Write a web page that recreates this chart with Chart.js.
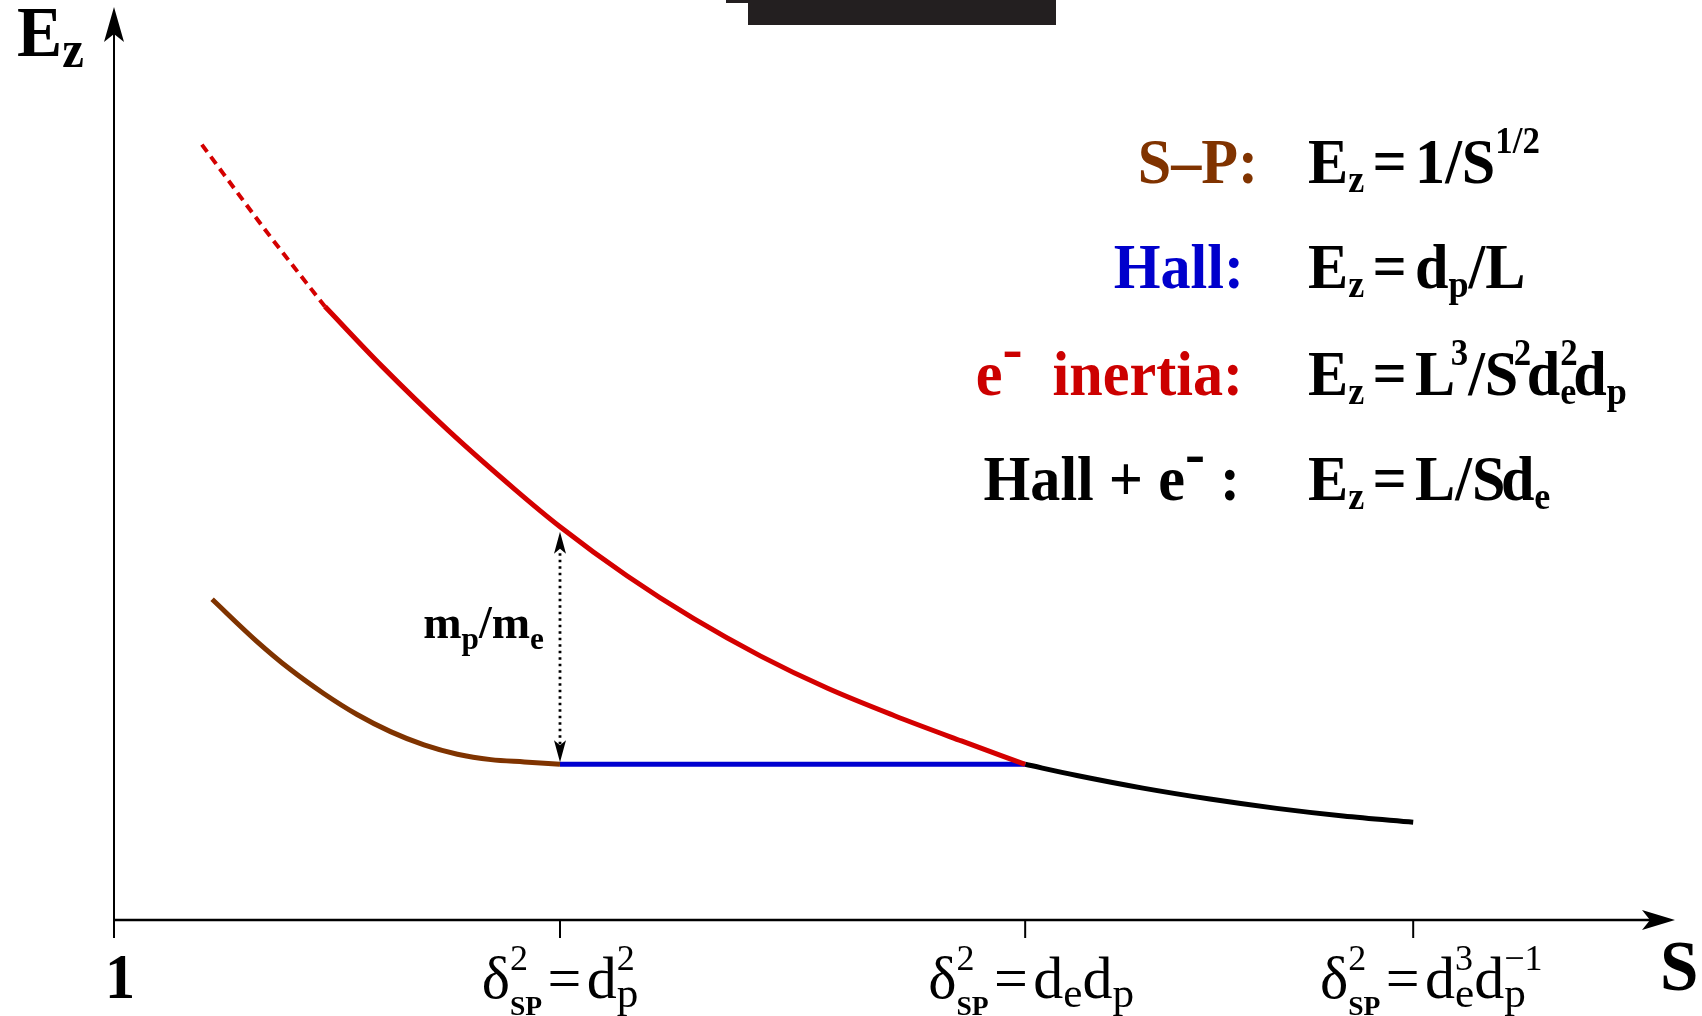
<!DOCTYPE html>
<html>
<head>
<meta charset="utf-8">
<title>Reconnection rate regimes</title>
<script src="https://cdn.jsdelivr.net/npm/chart.js@4.4.1/dist/chart.umd.min.js"></script>
<style>
  html, body { margin: 0; padding: 0; background: #fff; overflow: hidden; }
  canvas { display: block; }
</style>
</head>
<body>
<canvas id="regimeChart" width="1702" height="1016"></canvas>
<script>
// Schematic values: x ~ position along S, y ~ E_z (Hall level = 1)
const spX = [0.22, 0.32, 0.395, 0.47, 0.545, 0.62, 0.695, 0.77, 0.845, 0.92, 1.0];
const spY = [2.06, 1.79, 1.61, 1.455, 1.32, 1.21, 1.125, 1.065, 1.03, 1.015, 1.0];

const inertiaDashX = [0.197, 0.345, 0.473];
const inertiaDashY = [4.98, 4.41, 3.94];
const inertiaX = [0.473, 0.6, 0.75, 0.9, 1.0, 1.15, 1.3, 1.45, 1.6, 1.75, 1.9, 2.043];
const inertiaY = [3.94, 3.559, 3.143, 2.763, 2.526, 2.211, 1.935, 1.695, 1.488, 1.312, 1.15, 1.0];

const hallX = [1.0, 2.043];
const hallY = [1.0, 1.0];

const hallInertiaX = [2.043, 2.159, 2.307, 2.457, 2.607, 2.756, 2.913];
const hallInertiaY = [1.0, 0.928, 0.847, 0.777, 0.717, 0.668, 0.628];

// m_p/m_e gap arrow: x position, then bottom / top of the gap
const ratioArrowX = 1.0;
const ratioArrowY = [1.0, 2.526];

const tickValues = [0, 1, 2.043, 2.913];
const tickLabels = ['1', 'δ^{2}_[SP]~=~d^{2}_{p}', 'δ^{2}_[SP]~=~d_{e}d_{p}', 'δ^{2}_[SP]~=~d_{e}^{3}d_{p}^{−1}'];

const regimeNames = ['S–P:', 'Hall:', 'e^{-}  inertia:', 'Hall + e^{-} :'];
const regimeLaws = ['E_{z}~=~1/S^{1/2}', 'E_{z}~=~d_{p}/L', 'E_{z}~=~L!^{3}/S!^{2}!d_{e}^{2}!d_{p}', 'E_{z}~=~L/S!d_{e}'];

const xMax = 3.5;
const yMax = 5.864;

const toPoints = (xs, ys) => xs.map((v, i) => ({ x: v, y: ys[i] }));

// tiny markup: _{sub} ^{sup} _[small bold sub] ~ thin gap ! negative gap
function parseRich(str) {
    const runs = [];
    let buf = '';
    const flush = () => { if (buf) { runs.push({ t: buf, kind: 'base' }); buf = ''; } };
    for (let i = 0; i < str.length; i++) {
        const c = str[i];
        if ((c === '_' || c === '^') && (str[i + 1] === '{' || str[i + 1] === '[')) {
            flush();
            const close = str[i + 1] === '{' ? '}' : ']';
            const end = str.indexOf(close, i + 2);
            let kind = c === '_' ? 'sub' : 'sup';
            if (close === ']') kind = 'small';
            runs.push({ t: str.slice(i + 2, end), kind: kind });
            i = end;
        } else if (c === '~' || c === '!') {
            flush();
            runs.push({ t: '', kind: 'gap', neg: c === '!' });
        } else {
            buf += c;
        }
    }
    flush();
    return runs;
}

function runFont(r, s) {
    let size = s.size, dy = 0, weight = s.weight;
    if (r.kind === 'sub') {
        size = s.size * s.subSize; dy = s.size * s.subDrop;
    } else if (r.kind === 'sup') {
        if (r.t === '-') { size = s.size; dy = -s.size * 0.4; }
        else { size = s.size * s.supSize; dy = -s.size * s.supRaise; }
    } else if (r.kind === 'small') {
        size = s.size * s.smallSize; dy = s.size * s.smallDrop; weight = 'bold';
    }
    return { font: weight + ' ' + size.toFixed(1) + 'px "Liberation Serif", "Times New Roman", serif', dy: dy };
}

function drawRich(ctx, str, x, y, s, align) {
    const items = [];
    let cx = 0, stackX = null;
    parseRich(str).forEach(r => {
        if (r.kind === 'gap') {
            cx += r.neg ? -s.size * 0.07 : s.size * (s.gap || 0.09);
            if (!r.neg) stackX = null;
            return;
        }
        const f = runFont(r, s);
        ctx.font = f.font;
        const w = ctx.measureText(r.t).width * s.sx;
        const script = r.kind !== 'base';
        let rx = cx;
        if (script && stackX !== null) {
            rx = stackX; cx = Math.max(cx, rx + w); stackX = null;
        } else {
            cx = rx + w; stackX = script ? rx : null;
        }
        items.push({ t: r.t, font: f.font, x: rx, dy: f.dy });
    });
    const x0 = align === 'right' ? x - cx : align === 'center' ? x - cx / 2 : x;
    items.forEach(it => {
        ctx.save();
        ctx.font = it.font;
        ctx.translate(x0 + it.x, y + it.dy);
        ctx.scale(s.sx, 1);
        ctx.fillText(it.t, 0, 0);
        ctx.restore();
    });
}

function arrowHead(ctx, tx, ty, dx, dy, len, half, notch) {
    const bx = tx - dx * len, by = ty - dy * len;
    ctx.beginPath();
    ctx.moveTo(tx, ty);
    ctx.lineTo(bx - dy * half, by + dx * half);
    ctx.lineTo(tx - dx * (len - notch), ty - dy * (len - notch));
    ctx.lineTo(bx + dy * half, by - dx * half);
    ctx.closePath();
}

const legendStyle = { size: 64, weight: 'bold', sx: 0.94, gap: 0.13, subSize: 0.6, subDrop: 0.14, supSize: 0.58, supRaise: 0.47 };
const tickStyle = { size: 60, weight: 'normal', sx: 1, gap: 0.09, subSize: 0.72, subDrop: 0.15, supSize: 0.6, supRaise: 0.47, smallSize: 0.46, smallDrop: 0.28 };
const oneStyle = { size: 64, weight: 'bold', sx: 0.94 };
const yTitleStyle = { size: 72, weight: 'bold', sx: 0.94, subSize: 0.72, subDrop: 0.15 };
const xTitleStyle = { size: 72, weight: 'bold', sx: 0.96 };
const ratioStyle = { size: 46, weight: 'bold', sx: 1, subSize: 0.68, subDrop: 0.23 };

const nameColors = ['#803300', '#0000cc', '#cc0000', '#000000'];

const schematicPlugin = {
    id: 'schematic',
    beforeDatasetsDraw(chart) {
        const { ctx, chartArea: a, scales: { x, y } } = chart;
        const ox = x.getPixelForValue(0), oy = y.getPixelForValue(0);
        ctx.save();
        ctx.strokeStyle = '#000';
        ctx.fillStyle = '#000';

        // y axis with arrow
        ctx.lineWidth = 2;
        ctx.beginPath(); ctx.moveTo(ox, oy); ctx.lineTo(ox, a.top + 25); ctx.stroke();
        arrowHead(ctx, ox, a.top, 0, -1, 35, 10, 8); ctx.fill();

        // x axis with arrow
        ctx.lineWidth = 2.6;
        ctx.beginPath(); ctx.moveTo(ox, oy); ctx.lineTo(a.right - 25, oy); ctx.stroke();
        arrowHead(ctx, a.right, oy, 1, 0, 33, 10, 8); ctx.fill();

        // ticks
        ctx.lineWidth = 2;
        tickValues.forEach(v => {
            const px = x.getPixelForValue(v);
            ctx.beginPath(); ctx.moveTo(px, oy); ctx.lineTo(px, oy + 18); ctx.stroke();
        });
        ctx.restore();
    },
    afterDraw(chart) {
        const { ctx, chartArea: a, scales: { x, y } } = chart;
        const oy = y.getPixelForValue(0);
        ctx.save();
        ctx.textAlign = 'left';
        ctx.textBaseline = 'alphabetic';

        // cropped bar at the top edge
        ctx.fillStyle = '#231f20';
        ctx.fillRect(748, 0, 308, 25);
        ctx.fillRect(726, 0, 22, 3);

        // tick labels (the labels sit slightly right of their ticks in the figure)
        const labelShift = [6, 0, 6, 18];
        ctx.fillStyle = '#000';
        tickLabels.forEach((t, i) => {
            const px = x.getPixelForValue(tickValues[i]) + labelShift[i];
            drawRich(ctx, t, px, oy + 78, i === 0 ? oneStyle : tickStyle, 'center');
        });

        // axis titles
        drawRich(ctx, 'E_{z}', 17, 56, yTitleStyle, 'left');
        drawRich(ctx, 'S', a.right - 15, oy + 70, xTitleStyle, 'left');

        // regime legend
        const rowBase = [183, 288, 395, 500];
        const rowRight = [1258, 1244, 1243, 1240];
        regimeNames.forEach((t, i) => {
            ctx.fillStyle = nameColors[i];
            drawRich(ctx, t, rowRight[i], rowBase[i], legendStyle, 'right');
            ctx.fillStyle = '#000';
            drawRich(ctx, regimeLaws[i], 1308, rowBase[i], legendStyle, 'left');
        });

        // m_p/m_e dotted double arrow
        const ax = x.getPixelForValue(ratioArrowX);
        const yLow = y.getPixelForValue(ratioArrowY[0]) - 2;
        const yHigh = y.getPixelForValue(ratioArrowY[1]) + 5;
        ctx.strokeStyle = '#000';
        ctx.fillStyle = '#000';
        ctx.lineWidth = 2.8;
        ctx.setLineDash([2.5, 4]);
        ctx.beginPath(); ctx.moveTo(ax, yLow - 18); ctx.lineTo(ax, yHigh + 18); ctx.stroke();
        ctx.setLineDash([]);
        arrowHead(ctx, ax, yLow, 0, 1, 22, 6, 5); ctx.fill();
        arrowHead(ctx, ax, yHigh, 0, -1, 22, 6, 5); ctx.fill();

        drawRich(ctx, 'm_{p}/m_{e}', ax - 16, y.getPixelForValue(1.81), ratioStyle, 'right');
        ctx.restore();
    }
};

const lineSet = (points, color, extra) => Object.assign({
    data: points,
    showLine: true,
    borderColor: color,
    borderWidth: 5,
    pointRadius: 0,
    fill: false,
    cubicInterpolationMode: 'monotone',
    borderCapStyle: 'butt'
}, extra || {});

new Chart(document.getElementById('regimeChart'), {
    type: 'scatter',
    data: {
        datasets: [
            lineSet(toPoints(inertiaX, inertiaY), '#d40000'),
            lineSet(toPoints(inertiaDashX, inertiaDashY), '#d40000', { borderWidth: 4, borderDash: [9, 6] }),
            lineSet(toPoints(spX, spY), '#7f3300'),
            lineSet(toPoints(hallX, hallY), '#0000d0'),
            lineSet(toPoints(hallInertiaX, hallInertiaY), '#000000')
        ]
    },
    options: {
        responsive: false,
        animation: false,
        devicePixelRatio: 1,
        events: [],
        layout: { padding: { left: 114, right: 27, top: 7, bottom: 96 } },
        plugins: {
            legend: { display: false },
            tooltip: { enabled: false }
        },
        scales: {
            x: { type: 'linear', min: 0, max: xMax, display: false },
            y: { type: 'linear', min: 0, max: yMax, display: false }
        }
    },
    plugins: [schematicPlugin]
});
</script>
</body>
</html>
